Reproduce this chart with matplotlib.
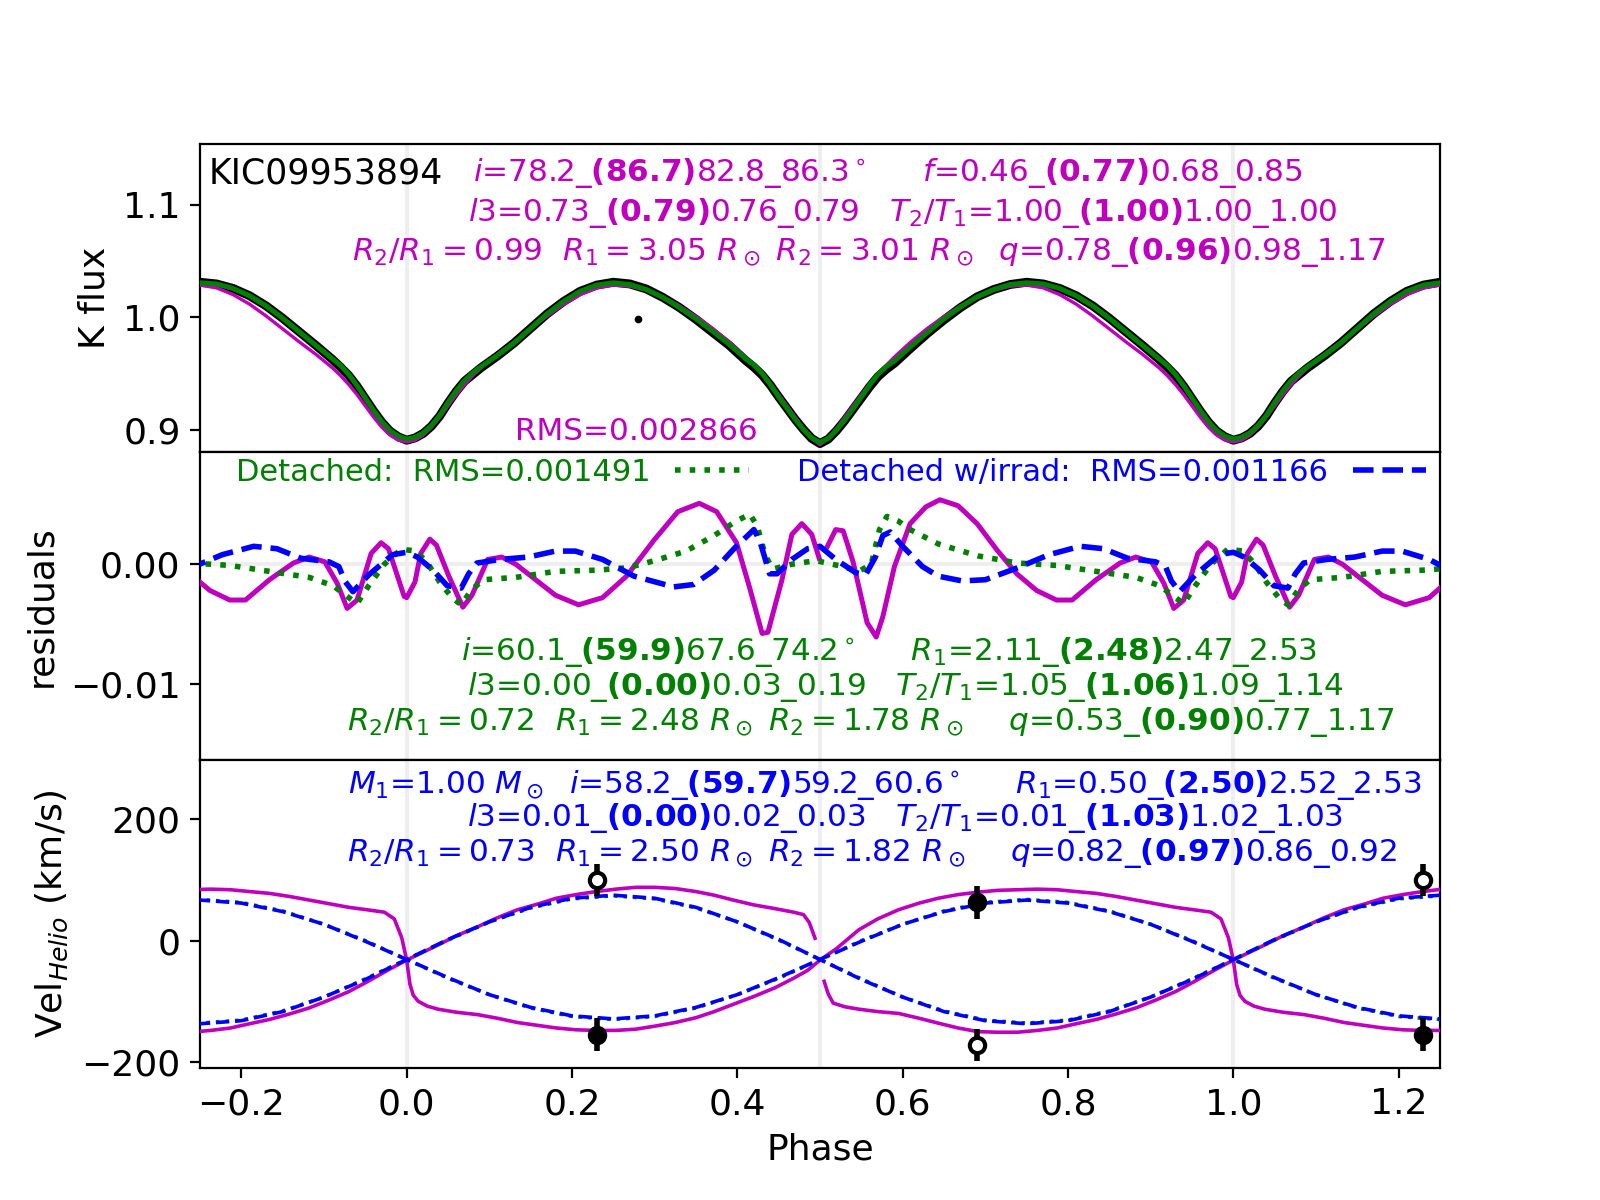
import numpy as np
import matplotlib
matplotlib.use("Agg")
import matplotlib.pyplot as plt
from matplotlib.lines import Line2D

# ---------------- data (one orbital cycle, phase 0..1) ----------------
lc_phase = [0.00, 0.01, 0.02, 0.03, 0.04, 0.05, 0.06, 0.07, 0.08, 0.09,
            0.11, 0.13, 0.15, 0.17, 0.19, 0.21, 0.23, 0.25, 0.27, 0.29,
            0.31, 0.33, 0.35, 0.37, 0.39, 0.41, 0.42, 0.43, 0.44, 0.45,
            0.46, 0.47, 0.48, 0.49, 0.50, 0.51, 0.52, 0.53, 0.54, 0.55,
            0.56, 0.57, 0.58, 0.59, 0.61, 0.63, 0.65, 0.67, 0.69, 0.71,
            0.73, 0.75, 0.77, 0.79, 0.81, 0.83, 0.85, 0.87, 0.89, 0.91,
            0.92, 0.93, 0.94, 0.95, 0.96, 0.97, 0.98, 0.99, 1.00]
flux_obs = [0.8905, 0.8925, 0.8965, 0.9030, 0.9120, 0.9235, 0.9340, 0.9430, 0.9490, 0.9550,
            0.9655, 0.9770, 0.9900, 1.0030, 1.0140, 1.0230, 1.0285, 1.0310, 1.0295, 1.0250,
            1.0175, 1.0085, 0.9980, 0.9865, 0.9750, 0.9615, 0.9555, 0.9485, 0.9395, 0.9290,
            0.9190, 0.9090, 0.9000, 0.8920, 0.8875, 0.8915, 0.8990, 0.9080, 0.9180, 0.9280,
            0.9380, 0.9470, 0.9535, 0.9590, 0.9725, 0.9855, 0.9975, 1.0085, 1.0180, 1.0245,
            1.0290, 1.0310, 1.0295, 1.0255, 1.0190, 1.0100, 0.9990, 0.9870, 0.9750, 0.9625,
            0.9555, 0.9480, 0.9385, 0.9275, 0.9165, 0.9065, 0.8985, 0.8935, 0.8905]
flux_contact = [0.8890, 0.8905, 0.8950, 0.9020, 0.9110, 0.9210, 0.9310, 0.9400, 0.9480, 0.9550,
                0.9670, 0.9780, 0.9895, 1.0010, 1.0115, 1.0200, 1.0260, 1.0285, 1.0275, 1.0240,
                1.0180, 1.0100, 1.0005, 0.9900, 0.9780, 0.9645, 0.9570, 0.9490, 0.9405, 0.9310,
                0.9210, 0.9110, 0.9010, 0.8920, 0.8865, 0.8920, 0.9010, 0.9110, 0.9210, 0.9310,
                0.9405, 0.9490, 0.9570, 0.9645, 0.9780, 0.9900, 1.0005, 1.0100, 1.0180, 1.0240,
                1.0275, 1.0285, 1.0260, 1.0200, 1.0115, 1.0010, 0.9895, 0.9780, 0.9670, 0.9550,
                0.9480, 0.9400, 0.9310, 0.9210, 0.9110, 0.9020, 0.8950, 0.8905, 0.8890]
flux_detached = [0.8915, 0.8930, 0.8970, 0.9035, 0.9125, 0.9240, 0.9345, 0.9435, 0.9505, 0.9560,
                 0.9660, 0.9770, 0.9900, 1.0030, 1.0140, 1.0230, 1.0285, 1.0305, 1.0290, 1.0245,
                 1.0175, 1.0085, 0.9985, 0.9875, 0.9760, 0.9630, 0.9575, 0.9500, 0.9400, 0.9290,
                 0.9190, 0.9090, 0.9000, 0.8925, 0.8885, 0.8920, 0.8995, 0.9085, 0.9185, 0.9290,
                 0.9395, 0.9490, 0.9560, 0.9610, 0.9740, 0.9865, 0.9985, 1.0090, 1.0180, 1.0245,
                 1.0290, 1.0305, 1.0295, 1.0255, 1.0190, 1.0100, 0.9990, 0.9870, 0.9750, 0.9630,
                 0.9570, 0.9490, 0.9390, 0.9280, 0.9170, 0.9070, 0.8990, 0.8940, 0.8915]
outlier_phase = [0.28]
outlier_flux = [0.998]

res_contact_phase = [0.000, 0.010, 0.017, 0.028, 0.036, 0.051, 0.068, 0.079, 0.098, 0.115,
                     0.132, 0.156, 0.180, 0.208, 0.237, 0.266, 0.299, 0.328, 0.354, 0.375,
                     0.399, 0.415, 0.430, 0.437, 0.454, 0.466, 0.478, 0.490, 0.499, 0.504,
                     0.509, 0.519, 0.528, 0.540, 0.557, 0.568, 0.576, 0.590, 0.609, 0.628,
                     0.645, 0.667, 0.690, 0.714, 0.738, 0.762, 0.786, 0.805, 0.834, 0.863,
                     0.882, 0.901, 0.916, 0.928, 0.940, 0.957, 0.969, 0.978, 0.997, 1.000]
res_contact = [-0.0028, -0.0015, 0.0009, 0.0021, 0.0016, -0.0010, -0.0036, -0.0026, 0.0004, 0.0006,
               0.0000, -0.0013, -0.0026, -0.0034, -0.0028, -0.0010, 0.0020, 0.0044, 0.0051, 0.0044,
               0.0018, -0.0020, -0.0058, -0.0057, -0.0013, 0.0025, 0.0034, 0.0025, 0.0005, np.nan,
               0.0015, 0.0029, 0.0028, 0.0002, -0.0049, -0.0061, -0.0044, -0.0002, 0.0034, 0.0048,
               0.0054, 0.0049, 0.0034, 0.0012, -0.0008, -0.0022, -0.0030, -0.0030, -0.0013, 0.0001,
               0.0006, 0.0002, -0.0016, -0.0037, -0.0030, 0.0009, 0.0018, 0.0013, -0.0027, -0.0028]

res_det_phase = [0.000, 0.012, 0.026, 0.040, 0.055, 0.066, 0.079, 0.093, 0.132, 0.180,
                 0.229, 0.267, 0.300, 0.338, 0.372, 0.396, 0.415, 0.424, 0.434, 0.443,
                 0.466, 0.495, 0.528, 0.547, 0.562, 0.572, 0.581, 0.595, 0.609, 0.643,
                 0.691, 0.739, 0.786, 0.834, 0.882, 0.911, 0.930, 0.940, 0.954, 0.973,
                 0.994, 1.000]
res_det = [0.0012, 0.0011, 0.0000, -0.0015, -0.0028, -0.0034, -0.0021, -0.0013, -0.0011, -0.0006,
           -0.0005, -0.0003, 0.0003, 0.0011, 0.0024, 0.0035, 0.0042, 0.0032, 0.0007, -0.0004,
           0.0000, 0.0003, -0.0002, -0.0006, 0.0000, 0.0029, 0.0040, 0.0036, 0.0029, 0.0017,
           0.0007, 0.0001, -0.0001, -0.0006, -0.0011, -0.0018, -0.0028, -0.0033, -0.0018, 0.0000,
           0.0013, 0.0012]

res_irr_phase = [0.000, 0.013, 0.032, 0.049, 0.066, 0.075, 0.085, 0.113, 0.147, 0.180,
                 0.204, 0.237, 0.275, 0.323, 0.347, 0.372, 0.396, 0.420, 0.427, 0.439,
                 0.448, 0.466, 0.485, 0.500, 0.519, 0.543, 0.555, 0.567, 0.576, 0.585,
                 0.600, 0.624, 0.643, 0.672, 0.700, 0.739, 0.777, 0.815, 0.843, 0.872,
                 0.906, 0.918, 0.925, 0.935, 0.954, 0.983, 1.000]
res_irr = [0.0010, 0.0006, -0.0005, -0.0018, -0.0020, -0.0008, 0.0001, 0.0004, 0.0006, 0.0011,
           0.0011, 0.0004, -0.0010, -0.0019, -0.0017, -0.0005, 0.0013, 0.0029, 0.0020, -0.0008,
           -0.0008, 0.0004, 0.0013, 0.0015, 0.0004, -0.0007, -0.0009, 0.0006, 0.0024, 0.0027,
           0.0015, -0.0002, -0.0010, -0.0014, -0.0013, -0.0003, 0.0008, 0.0015, 0.0013, 0.0005,
           0.0002, -0.0002, -0.0014, -0.0023, -0.0009, 0.0008, 0.0010]

# radial-velocity models
rv_m1_phase = [0.000, 0.004, 0.008, 0.014, 0.025, 0.038, 0.060, 0.086, 0.110, 0.134,
               0.160, 0.181, 0.205, 0.229, 0.253, 0.277, 0.300, 0.325, 0.350, 0.372,
               0.395, 0.420, 0.445, 0.468, 0.485, 0.500, 0.520, 0.547, 0.570, 0.595,
               0.620, 0.643, 0.667, 0.691, 0.715, 0.739, 0.763, 0.787, 0.810, 0.834,
               0.858, 0.882, 0.906, 0.930, 0.952, 0.973, 0.985, 0.994, 1.000]
rv_m1 = [-32, -72, -90, -100, -108, -113, -118, -122, -128, -135,
         -140, -144, -147, -148, -148, -146, -141, -135, -127, -117,
         -105, -92, -78, -62, -49, -32, -13, 18, 36, 51,
         62, 70, 76, 80, 83, 84, 85, 84, 81, 78,
         73, 67, 61, 55, 51, 47, 36, 5, -32]
rv_m2_phase = [0.000, 0.038, 0.060, 0.086, 0.110, 0.134, 0.160, 0.181, 0.205, 0.229,
               0.253, 0.277, 0.300, 0.325, 0.350, 0.372, 0.395, 0.420, 0.445, 0.468,
               0.480, 0.487, 0.494, 0.500, 0.505, 0.510, 0.516, 0.530, 0.547, 0.570,
               0.595, 0.620, 0.643, 0.667, 0.691, 0.715, 0.739, 0.763, 0.787, 0.810,
               0.834, 0.858, 0.882, 0.906, 0.930, 0.952, 0.978, 1.000]
rv_m2 = [-32, -7, 8, 23, 38, 51, 61, 70, 76, 81,
         85, 88, 88, 86, 81, 75, 67, 59, 53, 47,
         43, 30, 4, np.nan, -67, -88, -103, -109, -113, -117,
         -120, -128, -136, -144, -150, -151, -151, -148, -144, -137,
         -130, -121, -111, -98, -84, -68, -48, -32]

rv_sin_phase = [0.00, 0.05, 0.10, 0.15, 0.20, 0.25, 0.30, 0.35, 0.40, 0.45, 0.50,
                0.55, 0.60, 0.65, 0.70, 0.75, 0.80, 0.85, 0.90, 0.95, 1.00]
rv_irr_a = [-31, 2, 31, 55, 70, 75, 70, 55, 31, 2, -31,
            -64, -93, -117, -132, -137, -132, -117, -93, -64, -31]
rv_irr_b = [-31, -61, -89, -110, -124, -129, -124, -110, -89, -61, -31,
            -1, 27, 48, 62, 67, 62, 48, 27, -1, -31]
rv_det_a = [-31, 1, 31, 54, 69, 74, 69, 54, 31, 1, -31,
            -63, -93, -116, -131, -136, -131, -116, -93, -63, -31]
rv_det_b = [-31, -62, -89, -111, -125, -130, -125, -111, -89, -62, -31,
            0, 27, 49, 63, 68, 63, 49, 27, 0, -31]

obs_rv_phase = [0.23, 0.69]
obs_rv1 = [-155, 63]     # filled symbols
obs_rv2 = [100, -172]    # open symbols
obs_rv_err = [27, 27]

xticks = [-0.2, 0.0, 0.2, 0.4, 0.6, 0.8, 1.0, 1.2]
flux_ticks = [0.9, 1.0, 1.1]
res_ticks = [-0.01, 0.0]
rv_ticks = [-200, 0, 200]


def wrap(p, v):
    """Repeat one cycle so that it covers phase -0.25 .. 1.25 (with margin)."""
    p = np.asarray(p, float)
    v = np.asarray(v, float)
    lo = p >= 0.70
    hi = p <= 0.30
    return (np.concatenate([p[lo] - 1, p, p[hi] + 1]),
            np.concatenate([v[lo], v, v[hi]]))


def wrap_points(p, v, e):
    p = np.asarray(p, float)
    v = np.asarray(v, float)
    e = np.asarray(e, float)
    hi = p <= 0.25
    return (np.concatenate([p, p[hi] + 1]), np.concatenate([v, v[hi]]),
            np.concatenate([e, e[hi]]))


plt.rcParams['font.family'] = ['DejaVu Sans']
plt.rcParams['font.size'] = 13
PFS = 11.2  # parameter text size

fig, axes = plt.subplots(3, 1, sharex=True, figsize=(8, 6), dpi=200)
fig.subplots_adjust(hspace=0)
ax1, ax2, ax3 = axes

for ax in axes:
    for xv in (0.0, 0.5, 1.0):
        ax.axvline(xv, color='#eeeeee', lw=1.5, zorder=0)
    ax.set_xlim(-0.25, 1.25)

# ---------------- top panel: light curve ----------------
x, y = wrap(lc_phase, flux_obs)
ax1.plot(x, y, color='k', lw=3.2, zorder=2)
ax1.plot(outlier_phase, outlier_flux, 'k.', ms=3.5, zorder=2)
x, y = wrap(lc_phase, flux_contact)
ax1.plot(x, y, color='m', lw=1.2, zorder=3)
x, y = wrap(lc_phase, flux_detached)
ax1.plot(x, y, color='g', lw=1.8, zorder=4)
ax1.set_ylim(0.880, 1.154)
ax1.set_yticks(flux_ticks)
ax1.set_ylabel('K flux')
ax1.tick_params(axis='x', bottom=False, labelbottom=False)

T = ax1.transAxes
ax1.text(0.0073, 0.905, 'KIC09953894', transform=T, ha='left', va='center', fontsize=12.5, color='k')
ax1.text(0.555, 0.905, r"$i$=78.2_$\mathbf{(86.7)}$82.8_86.3$^\circ$     $f$=0.46_$\mathbf{(0.77)}$0.68_0.85",
         transform=T, ha='center', va='center', fontsize=PFS, color='m')
ax1.text(0.567, 0.776, r"$l3$=0.73_$\mathbf{(0.79)}$0.76_0.79   $T_2/T_1$=1.00_$\mathbf{(1.00)}$1.00_1.00",
         transform=T, ha='center', va='center', fontsize=PFS, color='m')
ax1.text(0.5395, 0.649, r"$R_2/R_1=0.99$  $R_1=3.05\ R_\odot$ $R_2=3.01\ R_\odot$  $q$=0.78_$\mathbf{(0.96)}$0.98_1.17",
         transform=T, ha='center', va='center', fontsize=PFS, color='m')
ax1.text(0.352, 0.068, 'RMS=0.002866', transform=T, ha='center', va='center', fontsize=PFS, color='m')

# ---------------- middle panel: residuals ----------------
ax2.axhline(0.0, color='#eeeeee', lw=1.5, zorder=0)
x, y = wrap(res_contact_phase, res_contact)
ax2.plot(x, y, color='m', lw=1.8, zorder=3)
x, y = wrap(res_det_phase, res_det)
ax2.plot(x, y, color='g', lw=2.0, ls=':', zorder=4)
x, y = wrap(res_irr_phase, res_irr)
ax2.plot(x, y, color='b', lw=2.0, ls='--', zorder=5)
ax2.set_ylim(-0.0164, 0.0094)
ax2.set_yticks(res_ticks)
ax2.set_ylabel('residuals')
ax2.tick_params(axis='x', bottom=False, labelbottom=False)

handles = [Line2D([], [], color='g', lw=2.0, ls=':'),
           Line2D([], [], color='b', lw=2.0, ls='--')]
labels = ['Detached:  RMS=0.001491', 'Detached w/irrad:  RMS=0.001166']
ax2.legend(handles, labels, loc='upper center', bbox_to_anchor=(0.509, 0.99), ncol=2,
           frameon=False, markerfirst=False, labelcolor='linecolor', fontsize=11,
           borderaxespad=0.0, borderpad=0.1, handlelength=2.4, handletextpad=0.8,
           columnspacing=1.6)

T = ax2.transAxes
ax2.text(0.556, 0.350, r"$i$=60.1_$\mathbf{(59.9)}$67.6_74.2$^\circ$     $R_1$=2.11_$\mathbf{(2.48)}$2.47_2.53",
         transform=T, ha='center', va='center', fontsize=PFS, color='g')
ax2.text(0.569, 0.238, r"$l3$=0.00_$\mathbf{(0.00)}$0.03_0.19   $T_2/T_1$=1.05_$\mathbf{(1.06)}$1.09_1.14",
         transform=T, ha='center', va='center', fontsize=PFS, color='g')
ax2.text(0.541, 0.124, r"$R_2/R_1=0.72$  $R_1=2.48\ R_\odot$ $R_2=1.78\ R_\odot$    $q$=0.53_$\mathbf{(0.90)}$0.77_1.17",
         transform=T, ha='center', va='center', fontsize=PFS, color='g')

# ---------------- bottom panel: radial velocities ----------------
x, y = wrap(rv_m1_phase, rv_m1)
ax3.plot(x, y, color='m', lw=1.3, zorder=3)
x, y = wrap(rv_m2_phase, rv_m2)
ax3.plot(x, y, color='m', lw=1.3, zorder=3)
for arr in (rv_det_a, rv_det_b):
    x, y = wrap(rv_sin_phase, arr)
    ax3.plot(x, y, color='g', lw=1.3, ls=':', zorder=4)
for arr in (rv_irr_a, rv_irr_b):
    x, y = wrap(rv_sin_phase, arr)
    ax3.plot(x, y, color='b', lw=1.3, ls='--', zorder=5)

px, py, pe = wrap_points(obs_rv_phase, obs_rv1, obs_rv_err)
ax3.errorbar(px, py, yerr=pe, fmt='o', color='k', mfc='k', mec='k', ms=5.5, mew=1.5,
             elinewidth=2.0, capsize=0, zorder=6)
px, py, pe = wrap_points(obs_rv_phase, obs_rv2, obs_rv_err)
ax3.errorbar(px, py, yerr=pe, fmt='o', color='k', mfc='w', mec='k', ms=5.5, mew=1.5,
             elinewidth=2.0, capsize=0, zorder=6)

ax3.set_ylim(-210, 298)
ax3.set_yticks(rv_ticks)
ax3.set_xticks(xticks)
ax3.set_ylabel(r'Vel$_{Helio}$ (km/s)')
ax3.set_xlabel('Phase')

T = ax3.transAxes
ax3.text(0.552, 0.919, r"$M_1$=1.00 $M_\odot$  $i$=58.2_$\mathbf{(59.7)}$59.2_60.6$^\circ$     $R_1$=0.50_$\mathbf{(2.50)}$2.52_2.53",
         transform=T, ha='center', va='center', fontsize=PFS, color='b')
ax3.text(0.569, 0.811, r"$l3$=0.01_$\mathbf{(0.00)}$0.02_0.03   $T_2/T_1$=0.01_$\mathbf{(1.03)}$1.02_1.03",
         transform=T, ha='center', va='center', fontsize=PFS, color='b')
ax3.text(0.542, 0.698, r"$R_2/R_1=0.73$  $R_1=2.50\ R_\odot$ $R_2=1.82\ R_\odot$    $q$=0.82_$\mathbf{(0.97)}$0.86_0.92",
         transform=T, ha='center', va='center', fontsize=PFS, color='b')

fig.savefig('out.png', dpi=200)
